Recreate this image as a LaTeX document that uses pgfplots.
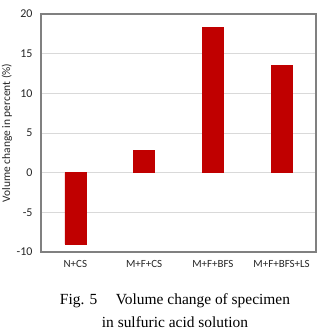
\documentclass[border=0pt]{standalone}
\usepackage{pgfplots}
\pgfplotsset{compat=1.18}
\usepackage{fontspec}
\setmainfont{Liberation Serif}
\newfontfamily\carlito{Carlito}
\definecolor{barred}{HTML}{C00000}
\definecolor{framegray}{HTML}{808080}
\definecolor{gridgray}{HTML}{D9D9D9}
\begin{document}
\begin{tikzpicture}[x=1bp,y=1bp]
\useasboundingbox (0,0) rectangle (318,330);
\begin{axis}[
  at={(41bp,78bp)}, anchor=south west,
  scale only axis, width=275bp, height=238bp,
  xmin=-0.5, xmax=3.5, ymin=-10, ymax=20,
  ytick={-10,-5,0,5,10,15,20},
  xtick={0,1,2,3},
  xticklabels={N+CS,M+F+CS,M+F+BFS,M+F+BFS+LS},
  ymajorgrids, grid style={gridgray, line width=0.8pt},
  axis line style={framegray, line width=1.2pt},
  major tick length=0pt,
  tick label style={font=\carlito\fontsize{11}{12}\selectfont, text=black!85},
  yticklabel style={xshift=-5bp, font=\carlito\fontsize{12}{13}\selectfont},
  xticklabel style={yshift=-5bp},
  /pgf/number format/assume math mode=true,
  ylabel={Volume change in percent (\%)},
  ylabel style={at={(rel axis cs:-0.124,0.5)}, anchor=center, font=\carlito\fontsize{11.5}{12}\selectfont, text=black!85},
  ybar, bar width=21bp,
]
\addplot[fill=barred, draw=barred] coordinates {(0,-9.0) (1,2.8) (2,18.3) (3,13.5)};
\end{axis}
\node[font=\fontsize{15.5}{18}\selectfont] at (175bp,29bp) {Fig. 5\hspace{1.2em}Volume change of specimen};
\node[font=\fontsize{15.5}{18}\selectfont] at (175bp,7.5bp) {in sulfuric acid solution};
\end{tikzpicture}
\end{document}
